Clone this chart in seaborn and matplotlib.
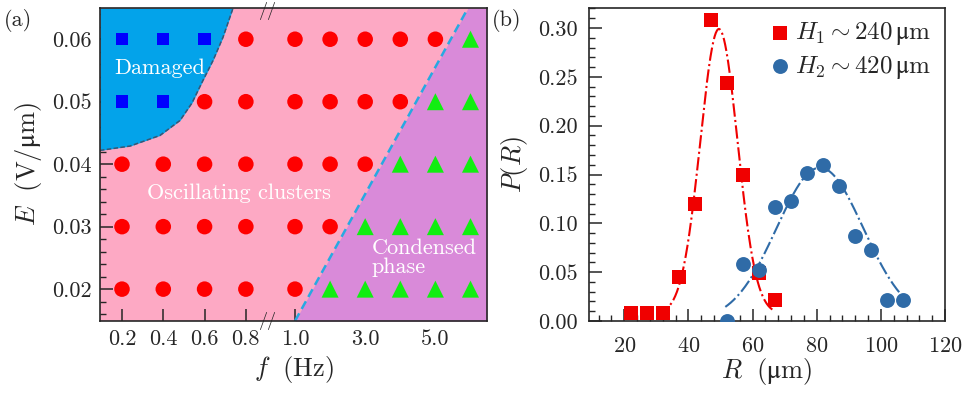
import numpy as np
import pandas as pd
import matplotlib
matplotlib.use("Agg")
import matplotlib.pyplot as plt
import matplotlib.transforms as mtransforms
from matplotlib.ticker import FixedLocator, NullLocator, MultipleLocator, FormatStrFormatter
import seaborn as sns

# ---------------- panel (a): phase diagram ----------------
f_ticks = [0.2, 0.4, 0.6, 0.8, 1.0, 2.0, 3.0, 4.0, 5.0, 6.0]
f_tick_labels = ["0.2", "0.4", "0.6", "0.8", "1.0", "", "3.0", "", "5.0", ""]
E_levels = [0.06, 0.05, 0.04, 0.03, 0.02]
# phase per (E, f): D = damaged, O = oscillating clusters, C = condensed
phase_06 = ["D", "D", "D", "O", "O", "O", "O", "O", "O", "C"]
phase_05 = ["D", "D", "O", "O", "O", "O", "O", "O", "C", "C"]
phase_04 = ["O", "O", "O", "O", "O", "O", "O", "C", "C", "C"]
phase_03 = ["O", "O", "O", "O", "O", "O", "C", "C", "C", "C"]
phase_02 = ["O", "O", "O", "O", "O", "C", "C", "C", "C", "C"]

# boundary of the damaged region
damaged_f = [0.093, 0.239, 0.384, 0.481, 0.539, 0.592, 0.641, 0.689, 0.738]
damaged_E = [0.0422, 0.0429, 0.0446, 0.0470, 0.0498, 0.0534, 0.0566, 0.0603, 0.0650]
# boundary of the condensed phase (straight line)
condensed_f = [1.0, 5.93]
condensed_E = [0.0149, 0.0650]

# ---------------- panel (b): size distributions ----------------
R1 = [22, 27, 32, 37, 42, 47, 52, 57, 62, 67]
P1 = [0.008, 0.008, 0.008, 0.045, 0.120, 0.308, 0.244, 0.150, 0.049, 0.021]
R2 = [52, 57, 62, 67, 72, 77, 82, 87, 92, 97, 102, 107]
P2 = [0.000, 0.058, 0.052, 0.117, 0.123, 0.152, 0.160, 0.138, 0.087, 0.073, 0.022, 0.022]
# gaussian fits: offset, amplitude, centre, width, range
fit1 = [0.007, 0.292, 49.5, 5.8, 30.0, 66.5]
fit2 = [0.000, 0.157, 81.0, 13.5, 51.5, 107.5]

pink = "#fda9c4"
blue_region = "#03a3ea"
purple = "#d98ad9"
red = "#f00000"
steel = "#2f6ba7"

sns.set_style("ticks")
plt.rcParams.update({
    "font.family": "serif",
    "font.serif": ["cmr10"],
    "mathtext.fontset": "cm",
    "axes.unicode_minus": False,
    "axes.formatter.use_mathtext": True,
    "axes.linewidth": 1.2,
    "xtick.major.width": 1.1,
    "ytick.major.width": 1.1,
    "xtick.minor.width": 1.0,
    "ytick.minor.width": 1.0,
})


def f_to_pos(f):
    f = np.asarray(f, dtype=float)
    return np.where(f <= 0.8, f / 0.2,
                    np.where(f <= 1.0, 4 + (f - 0.8) * 5.95, 5.19 + (f - 1.0) * 0.85))


def pos_to_f(x):
    x = np.asarray(x, dtype=float)
    return np.where(x <= 4, x * 0.2,
                    np.where(x <= 5.19, 0.8 + (x - 4) / 5.95, 1.0 + (x - 5.19) / 0.85))


fig = plt.figure(figsize=(9.67, 3.94), dpi=100)
ax_a = fig.add_axes([0.1034, 0.1853, 0.4002, 0.7944])
ax_b = fig.add_axes([0.6091, 0.1853, 0.3682, 0.7944])

# ---- (a)
ax_a.set_xscale("function", functions=(f_to_pos, pos_to_f))
xlo, xhi = 0.0934, 6.47
ylo, yhi = 0.0149, 0.065
ax_a.set_xlim(xlo, xhi)
ax_a.set_ylim(ylo, yhi)
ax_a.set_facecolor(pink)

ax_a.fill_betweenx(damaged_E, xlo, damaged_f, color=blue_region, lw=0, zorder=1)
ax_a.plot(damaged_f, damaged_E, ls=(0, (3, 1.5)), color="#3a5573", lw=1.1, zorder=2)
ax_a.fill_betweenx(condensed_E, condensed_f, xhi, color=purple, lw=0, zorder=1)
ax_a.plot(condensed_f, condensed_E, ls=(0, (3.5, 2)), color="#27a9e1", lw=1.8, zorder=2)

rows = []
for E, phases in zip(E_levels, [phase_06, phase_05, phase_04, phase_03, phase_02]):
    for f, ph in zip(f_ticks, phases):
        rows.append({"f": f, "E": E, "phase": ph})
df_a = pd.DataFrame(rows)

sns.scatterplot(data=df_a, x="f", y="E", hue="phase", style="phase", size="phase",
                palette={"D": "#0000ff", "O": "#ff0000", "C": "#11ee11"},
                markers={"D": "s", "O": "o", "C": "^"},
                sizes={"D": 80, "O": 125, "C": 150},
                linewidth=0, legend=False, ax=ax_a, zorder=3)

ax_a.text(0.384, 0.0554, "Damaged", color="white", fontsize=16, ha="center", va="center")
ax_a.text(0.767, 0.0354, "Oscillating clusters", color="white", fontsize=16,
          ha="center", va="center")
ax_a.text(3.19, 0.0250, "Condensed\nphase", color="white", fontsize=16,
          ha="left", va="center", linespacing=1.0)

ax_a.xaxis.set_major_locator(FixedLocator(f_ticks))
ax_a.xaxis.set_minor_locator(NullLocator())
ax_a.set_xticklabels(f_tick_labels)
ax_a.yaxis.set_major_locator(MultipleLocator(0.01))
ax_a.yaxis.set_minor_locator(MultipleLocator(0.002))
ax_a.yaxis.set_major_formatter(FormatStrFormatter("%.2f"))
ax_a.tick_params(which="both", direction="in", top=False, right=False, labelsize=16)
ax_a.tick_params(which="major", length=9, pad=6)
ax_a.tick_params(which="minor", length=4.5)
ax_a.set_xlabel(r"$f\ \ (\mathrm{Hz})$", fontsize=19, labelpad=4)
ax_a.set_ylabel(r"$E\ \ (\mathrm{V/μm})$", fontsize=19, labelpad=6)

brk = mtransforms.blended_transform_factory(ax_a.transData, ax_a.transAxes)
brk_top = mtransforms.offset_copy(brk, fig=fig, y=-3, units="dots")
ax_a.text(0.89, 1.0, "//", transform=brk_top, ha="center", va="center",
          fontsize=13, clip_on=False, zorder=5)
ax_a.text(0.89, 0.0, "//", transform=brk, ha="center", va="center",
          fontsize=13, clip_on=False, zorder=5)

# ---- (b)
x1 = np.linspace(fit1[4], fit1[5], 200)
y1 = fit1[0] + fit1[1] * np.exp(-(x1 - fit1[2]) ** 2 / (2 * fit1[3] ** 2))
x2 = np.linspace(fit2[4], fit2[5], 200)
y2 = fit2[0] + fit2[1] * np.exp(-(x2 - fit2[2]) ** 2 / (2 * fit2[3] ** 2))
ax_b.plot(x1, y1, ls="-.", color=red, lw=1.5, zorder=2)
ax_b.plot(x2, y2, ls="-.", color=steel, lw=1.5, zorder=2)

sns.scatterplot(x=R1, y=P1, marker="s", color=red, s=90, linewidth=0, ax=ax_b,
                zorder=3, label=r"$H_1\sim 240\,\mathrm{μm}$")
sns.scatterplot(x=R2, y=P2, marker="o", color=steel, s=115, linewidth=0, ax=ax_b,
                zorder=3, label=r"$H_2\sim 420\,\mathrm{μm}$")

ax_b.set_xlim(9, 120)
ax_b.set_ylim(0, 0.3205)
ax_b.xaxis.set_major_locator(MultipleLocator(20))
ax_b.xaxis.set_minor_locator(MultipleLocator(4))
ax_b.yaxis.set_major_locator(MultipleLocator(0.05))
ax_b.yaxis.set_minor_locator(MultipleLocator(0.01))
ax_b.yaxis.set_major_formatter(FormatStrFormatter("%.2f"))
ax_b.tick_params(which="both", direction="in", top=False, right=False, labelsize=16)
ax_b.tick_params(which="major", length=9, pad=8)
ax_b.tick_params(axis="x", which="major", pad=11.5)
ax_b.tick_params(which="minor", length=4)
ax_b.set_xlabel(r"$R\ \ (\mathrm{μm})$", fontsize=19, labelpad=0)
ax_b.set_ylabel(r"$P(R)$", fontsize=19, labelpad=6)
ax_b.legend(loc="upper right", frameon=False, fontsize=18, handletextpad=0.1,
            handlelength=1.0, labelspacing=0.25, borderaxespad=0.2,
            borderpad=0.3, bbox_to_anchor=(0.995, 1.0))

fig.text(0.004, 0.935, "(a)", fontsize=16)
fig.text(0.509, 0.935, "(b)", fontsize=16)

fig.savefig("out.png", dpi=100)
